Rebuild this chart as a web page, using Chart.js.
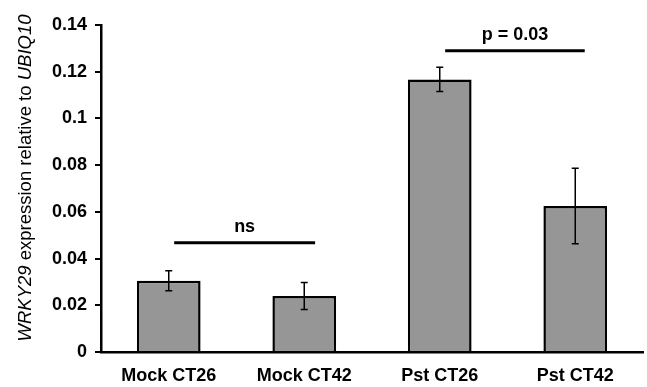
<!DOCTYPE html>
<html>
<head>
<meta charset="utf-8">
<script src="https://cdn.jsdelivr.net/npm/chart.js@4/dist/chart.umd.min.js"></script>
<style>
  html, body { margin: 0; padding: 0; background: #fff; }
  #wrap { width: 647px; height: 387px; }
</style>
</head>
<body>
<div id="wrap"><canvas id="wrky"></canvas></div>
<script>
const groups = ["Mock CT26", "Mock CT42", "Pst CT26", "Pst CT42"];
const expression = [0.0305, 0.0240, 0.1167, 0.0625];
const errors = [0.0043, 0.0058, 0.0052, 0.0162];
const yTicks = [0, 0.02, 0.04, 0.06, 0.08, 0.1, 0.12, 0.14];

// significance brackets: from index, to index, height, label
const sigFrom = [0.04, 2.04];
const sigTo = [1.08, 3.07];
const sigY = [0.0468, 0.129];
const sigText = ["ns", "p = 0.03"];

const FONT = "'Liberation Sans', Arial, sans-serif";

const extras = {
    id: "extras",
    afterDatasetsDraw(chart) {
        const ctx = chart.ctx;
        const x = chart.scales.x;
        const y = chart.scales.y;
        const step = x.getPixelForValue(1) - x.getPixelForValue(0);
        ctx.save();
        // error bars
        ctx.strokeStyle = "#000";
        ctx.lineWidth = 1.5;
        expression.forEach((v, i) => {
            const cx = x.getPixelForValue(i);
            const top = y.getPixelForValue(v + errors[i]);
            const bot = y.getPixelForValue(v - errors[i]);
            ctx.beginPath();
            ctx.moveTo(cx, top); ctx.lineTo(cx, bot);
            ctx.moveTo(cx - 3.5, top); ctx.lineTo(cx + 3.5, top);
            ctx.moveTo(cx - 3.5, bot); ctx.lineTo(cx + 3.5, bot);
            ctx.stroke();
        });
        // significance lines
        ctx.lineWidth = 3;
        ctx.fillStyle = "#000";
        ctx.font = "bold 18px " + FONT;
        ctx.textAlign = "center";
        ctx.textBaseline = "bottom";
        sigText.forEach((t, i) => {
            const x1 = x.getPixelForValue(0) + sigFrom[i] * step;
            const x2 = x.getPixelForValue(0) + sigTo[i] * step;
            const yy = y.getPixelForValue(sigY[i]);
            ctx.beginPath();
            ctx.moveTo(x1, yy); ctx.lineTo(x2, yy);
            ctx.stroke();
            ctx.fillText(t, (x1 + x2) / 2, yy - 7);
        });
        // y axis title with italic gene names
        const parts = [["WRKY29", "italic"], [" expression relative to ", "normal"], ["UBIQ10", "italic"]];
        ctx.translate(26, 178);
        ctx.rotate(-Math.PI / 2);
        ctx.textBaseline = "middle";
        ctx.textAlign = "left";
        let total = 0;
        parts.forEach(p => {
            ctx.font = p[1] + " 18.5px " + FONT;
            total += ctx.measureText(p[0]).width;
        });
        let pos = -total / 2;
        parts.forEach(p => {
            ctx.font = p[1] + " 18.5px " + FONT;
            ctx.fillText(p[0], pos, 0);
            pos += ctx.measureText(p[0]).width;
        });
        ctx.restore();
    }
};

const chart = new Chart("wrky", {
    type: "bar",
    data: {
        labels: groups,
        datasets: [{
            label: "WRKY29",
            data: expression,
            backgroundColor: "#969696",
            borderColor: "#000",
            borderWidth: 2.5,
            barPercentage: 0.47,
            categoryPercentage: 1.0
        }]
    },
    options: {
        responsive: true,
        maintainAspectRatio: false,
        animation: false,
        layout: { padding: { top: 25, right: 4, left: 0, bottom: 0 } },
        plugins: {
            legend: { display: false },
            tooltip: { enabled: false }
        },
        scales: {
            x: {
                grid: { display: false },
                border: { color: "#000", width: 2.5 },
                ticks: {
                    color: "#000",
                    padding: 5,
                    font: { family: FONT, size: 18, weight: "bold" }
                },
                afterFit(scale) { scale.height = 35; }
            },
            y: {
                min: 0,
                max: 0.14,
                afterBuildTicks(scale) { scale.ticks = yTicks.map(v => ({ value: v })); },
                grid: { drawOnChartArea: false, color: "#000", lineWidth: 2, tickLength: 6 },
                border: { color: "#000", width: 2.5 },
                ticks: {
                    color: "#000",
                    padding: 8,
                    font: { family: FONT, size: 18, weight: "bold" },
                    callback: (v) => String(Math.round(v * 100) / 100)
                },
                afterFit(scale) { scale.width = 101; }
            }
        }
    },
    plugins: [extras]
});
</script>
</body>
</html>
